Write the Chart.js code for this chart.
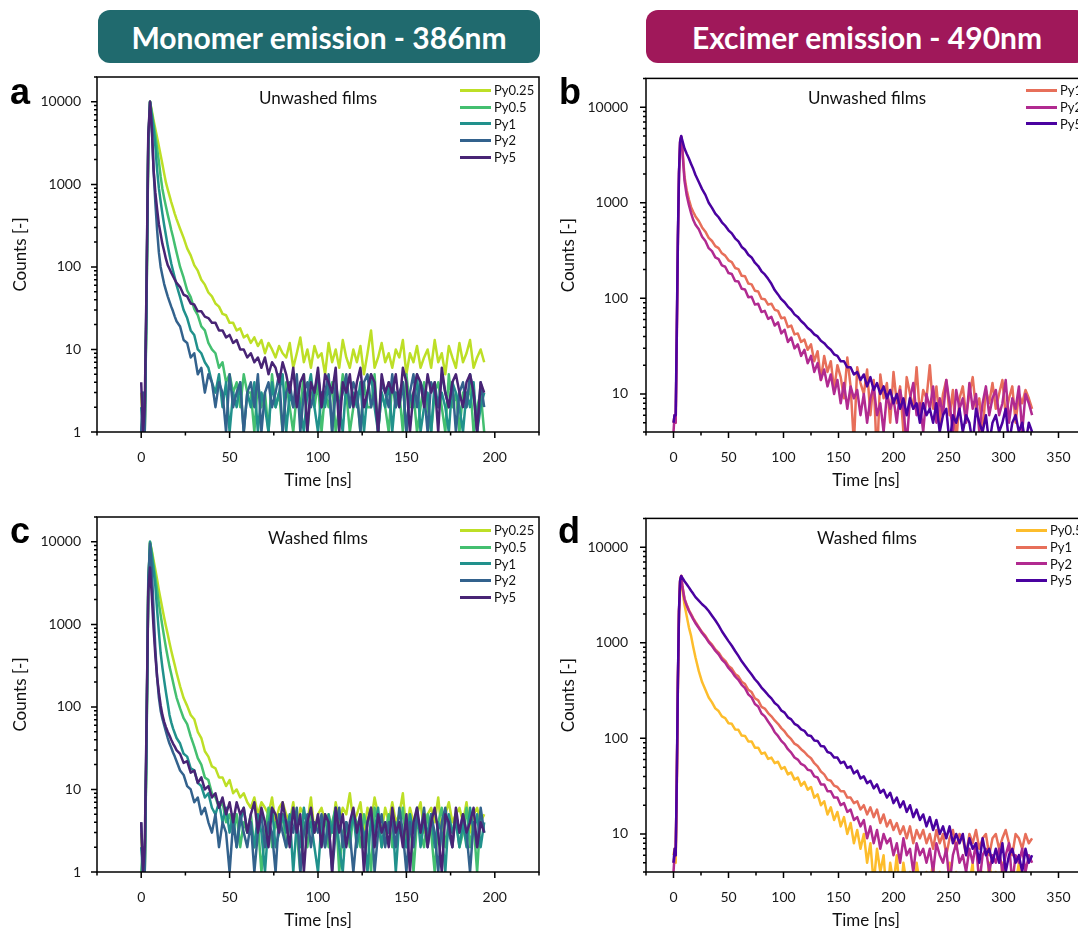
<!DOCTYPE html>
<html>
<head>
<meta charset="utf-8">
<script src="https://cdn.jsdelivr.net/npm/chart.js@4.4.0/dist/chart.umd.min.js"></script>
<style>
html, body { margin: 0; padding: 0; width: 1078px; height: 933px; overflow: hidden; background: #fff; font-family: Lato, sans-serif; }
.banner { position: absolute; top: 10px; height: 53px; width: 442px; border-radius: 12px; color: #fff;
  font: bold 30px Lato, sans-serif; display: flex; align-items: center; justify-content: center; }
.letter { position: absolute; font: bold 36px "Liberation Sans", Arial, sans-serif; line-height: 36px; }
canvas { position: absolute; }
.label { position: absolute; font: 17px Lato, sans-serif; color: #111; transform: translate(-50%, -50%); white-space: nowrap; }
.legend { position: absolute; font: 13px Lato, sans-serif; color: #111; }
.legend .row { display: flex; align-items: center; height: 16.7px; white-space: nowrap; }
.legend .ln { display: inline-block; width: 31px; height: 3px; margin-right: 3px; }
</style>
</head>
<body>
<div class="banner" style="left:98px;background:#206a6e;">Monomer emission - 386nm</div>
<div class="banner" style="left:646px;background:#a0185a;">Excimer emission - 490nm</div>

<canvas id="chartA" width="545" height="445" style="left:0px;top:60px;"></canvas>
<canvas id="chartB" width="542" height="445" style="left:550px;top:60px;"></canvas>
<canvas id="chartC" width="545" height="445" style="left:0px;top:500px;"></canvas>
<canvas id="chartD" width="542" height="445" style="left:550px;top:500px;"></canvas>

<div class="letter" style="left:10px;top:74px;">a</div>
<div class="letter" style="left:559px;top:74px;">b</div>
<div class="letter" style="left:10px;top:513px;">c</div>
<div class="letter" style="left:558px;top:513px;">d</div>

<div class="label" style="left:318px;top:97px;">Unwashed films</div>
<div class="label" style="left:867px;top:97px;">Unwashed films</div>
<div class="label" style="left:318px;top:537px;">Washed films</div>
<div class="label" style="left:867px;top:537px;">Washed films</div>

<script>
// time axes (ns)
const timeMono = [0,1,2,3,4,5,6,7,8,9,10,11,12,13,14,15,16,17,18,19,20,
  22,24,26,28,30,32,34,36,38,40,
  42,44,46,48,50,52,54,56,58,60,
  62,64,66,68,70,72,74,76,78,80,
  82,84,86,88,90,92,94,96,98,100,
  102,104,106,108,110,112,114,116,118,120,
  122,124,126,128,130,132,134,136,138,140,
  142,144,146,148,150,152,154,156,158,160,
  162,164,166,168,170,172,174,176,178,180,
  182,184,186,188,190,192,194];

const timeExc = [0,1,2,3,4,5,6,7,8,10,12,14,16,18,20,
  23,26,29,32,35,38,41,44,47,50,
  53,56,59,62,65,68,71,74,77,80,
  83,86,89,92,95,98,101,104,107,110,
  113,116,119,122,125,128,131,134,137,140,
  143,146,149,152,155,158,161,164,167,170,
  173,176,179,182,185,188,191,194,197,200,
  203,206,209,212,215,218,221,224,227,230,
  233,236,239,242,245,248,251,254,257,260,
  263,266,269,272,275,278,281,284,287,290,
  293,296,299,302,305,308,311,314,317,320,
  323,326];

const monoNames = ["Py0.25", "Py0.5", "Py1", "Py2", "Py5"];
const monoColors = ["#bddf26", "#44bf70", "#21918c", "#33628d", "#482475"];
const excNamesB = ["Py1", "Py2", "Py5"];
const excColorsB = ["#e76f5a", "#b12a90", "#4a02a0"];
const excNamesD = ["Py0.5", "Py1", "Py2", "Py5"];
const excColorsD = ["#fdbd2c", "#e76f5a", "#b12a90", "#4a02a0"];

const monoYTicks = [1, 10, 100, 1000, 10000];
const excYTicks = [10, 100, 1000, 10000];
const monoXTicks = [0, 50, 100, 150, 200];
const excXTicks = [0, 50, 100, 150, 200, 250, 300, 350];

// a - monomer, unwashed
const aPy025 = [3,1,1,40,3000,10000,7800,6000,4700,3700,2900,2250,1750,1350,1050,870,730,610,520,440,380,
  290,225,168,138,105,90,70,61,49,44,
  36,33,27,26,21,21,17,18,14,15,
  12,14,11,13,9,12,10,8,11,9,
  8,12,6,9,14,7,10,6,11,8,
  9,5,12,7,10,6,13,8,6,10,
  7,11,5,9,17,6,8,12,7,9,
  6,10,8,13,5,9,7,11,6,8,
  10,6,13,7,9,5,11,8,6,12,
  7,9,13,6,8,10,7];
const aPy05 = [1,2,1,30,2800,10000,7400,5400,3900,2700,1900,1250,880,680,540,430,350,280,230,185,150,
  100,74,52,43,31,26,19,17,12,10,
  9,6,7,4,5,3,4,2,5,3,
  3,1,4,2,3,1,5,2,3,1,
  4,2,1,3,2,5,1,3,2,4,
  1,3,2,4,1,2,5,3,1,2,
  3,1,4,2,2,5,1,3,2,1,
  4,2,3,1,5,2,3,1,2,4,
  2,1,3,4,2,1,5,2,3,1,
  3,2,4,1,2,3,1];
const aPy1 = [2,1,1,35,3000,10000,6900,4700,2900,1500,900,620,440,320,240,180,140,110,90,74,60,
  43,30,24,17,15,10,9,7,6,4,
  3,5,2,4,1,3,2,4,1,3,
  2,4,1,3,2,1,4,2,3,5,
  1,3,2,4,2,1,3,5,2,1,
  3,2,4,1,3,2,1,4,2,3,
  2,4,1,3,5,2,1,3,2,4,
  1,3,2,4,1,3,2,5,1,2,
  3,1,4,2,3,2,1,4,3,2,
  1,3,2,4,1,2,3];
const aPy2 = [1,3,1,50,3500,10000,5000,1500,600,280,150,100,78,62,52,44,38,33,29,25,22,
  19,13,12,8,9,5,6,3,5,4,
  2,4,3,1,5,2,3,4,1,3,
  4,2,5,1,3,4,2,3,5,1,
  3,4,2,5,1,3,4,2,3,5,
  2,3,5,1,4,2,3,5,2,4,
  3,1,4,5,2,3,1,4,3,2,
  5,2,3,4,1,3,5,2,4,3,
  1,4,3,2,5,3,2,4,1,3,
  4,2,5,3,1,4,2];
const aPy5 = [4,1,2,60,4000,10000,4800,1500,800,500,330,250,190,155,125,105,95,85,77,70,64,
  57,46,44,36,35,29,29,25,24,21,
  21,17,17,14,15,12,13,10,10,8,
  9,7,8,6,8,5,7,6,4,7,
  5,3,6,2,4,5,1,4,3,6,
  2,5,4,3,6,1,4,3,5,2,
  4,6,2,3,5,4,1,5,3,4,
  3,5,2,6,4,1,3,5,4,2,
  5,3,4,1,6,3,2,4,5,3,
  2,4,5,3,1,4,3];

// c - monomer, washed
const cPy025 = [3,1,1,40,3000,9800,7800,6000,4600,3500,2600,2000,1550,1200,950,760,600,480,390,320,260,
  178,128,103,80,71,50,42,29,25,19,
  18,14,14,11,13,9,10,8,9,7,
  6,8,5,7,6,5,8,4,6,7,
  5,4,7,3,6,5,4,8,3,5,
  6,4,5,3,7,4,6,5,9,4,
  5,7,3,6,4,8,5,3,6,4,
  7,4,5,9,3,6,4,5,7,3,
  5,6,4,8,3,5,7,4,5,6,
  4,7,3,5,6,4,5];
const cPy05 = [1,2,1,30,2800,10000,7500,5300,3700,2600,1800,1300,950,700,520,400,310,250,200,160,130,
  96,73,62,44,33,24,20,14,13,9,
  8,6,7,4,5,3,5,2,4,3,
  5,2,4,1,3,6,2,4,3,5,
  2,4,6,3,1,4,2,5,3,4,
  3,5,2,4,6,1,3,4,2,5,
  4,2,5,3,1,6,4,2,3,5,
  2,4,3,6,2,5,1,4,3,2,
  5,3,1,4,6,2,4,3,5,2,
  3,6,2,4,1,5,3];
const cPy1 = [2,1,1,35,3000,10000,6800,4500,2900,1500,800,450,300,210,150,110,80,65,55,48,42,
  36,27,25,18,17,12,11,8,9,6,
  5,7,4,6,3,5,2,4,6,3,
  4,2,5,3,1,4,6,2,3,5,
  3,5,1,4,2,6,3,4,2,1,
  4,2,5,3,6,2,1,4,3,5,
  2,4,3,1,5,3,6,2,4,3,
  5,1,4,3,2,5,3,6,2,4,
  3,5,2,4,3,1,5,3,4,2,
  4,2,6,3,5,2,4];
const cPy2 = [4,1,1,50,3500,9500,4500,1500,500,230,130,90,72,60,50,42,36,32,28,25,22,
  17,15,11,10,7,8,5,6,4,3,
  5,2,4,3,1,4,2,5,3,2,
  4,1,3,5,2,4,3,1,5,3,
  2,4,3,6,1,3,5,2,4,3,
  5,2,4,1,3,6,2,4,3,1,
  3,5,2,4,6,1,3,5,2,4,
  4,2,6,3,1,4,2,5,3,6,
  2,5,3,1,4,6,3,2,5,3,
  5,3,1,4,2,6,3];
const cPy5 = [4,1,2,60,2500,4900,2200,900,420,230,150,105,80,66,57,50,45,40,36,33,30,
  27,21,22,16,17,12,14,10,11,8,
  9,6,8,5,7,4,7,5,6,3,
  5,7,3,6,4,2,6,5,3,7,
  4,2,6,3,5,1,4,6,3,5,
  2,5,4,1,6,3,5,2,4,6,
  3,5,1,4,6,2,5,3,4,2,
  6,3,4,2,5,1,4,6,3,5,
  2,4,6,3,1,5,4,2,6,3,
  5,3,4,6,2,4,3];

// b - excimer, unwashed
const bPy1 = [5,6,5,40,400,2000,4300,4900,3800,1870,1350,1080,900,800,720,
  645,552,498,430,398,352,335,296,280,250,
  240,208,202,172,170,143,140,120,118,99,
  98,86,88,76,74,62,63,50,52,42,
  43,35,37,29,33,22,28,14,25,17,
  22,11,20,15,9,24,12,3,19,13,
  10,18,6,14,2,16,9,13,5,17,
  8,12,4,15,10,7,19,6,11,9,
  20,7,12,5,10,14,6,11,3,9,
  12,6,10,15,7,9,4,11,8,13,
  7,10,14,6,9,12,5,10,8,11,
  9,7];
const bPy2 = [4,6,5,40,400,2000,4300,4900,3600,1700,1200,950,780,660,590,
  528,441,398,335,312,268,257,221,214,184,
  180,152,150,126,124,103,104,86,88,72,
  74,61,64,52,56,43,47,35,39,30,
  33,25,29,21,25,17,21,14,18,12,
  16,10,14,8,13,7,12,9,11,6,
  10,5,9,12,6,8,4,10,7,9,
  5,11,7,3,9,13,6,8,4,10,
  7,12,5,9,6,14,8,4,11,7,
  9,5,13,7,10,4,8,12,6,9,
  11,6,8,14,5,9,7,12,4,10,
  8,6];
const bPy5 = [5,6,6,50,450,2100,4400,5000,4500,3700,3250,2900,2550,2250,1950,
  1650,1390,1210,1000,885,770,705,625,575,515,
  478,425,395,345,322,286,268,236,218,192,
  178,160,142,122,110,98,91,82,76,68,
  64,58,54,49,46,42,40,36,34,31,
  29,26,25,22,22,19,19,16,17,14,
  16,12,15,11,13,10,12,9,11,8,
  10,7,9,6,9,7,8,5,8,6,
  7,5,8,4,6,7,3,6,5,7,
  4,6,5,3,7,5,4,6,3,5,
  6,4,5,7,3,5,6,4,5,3,
  5,4];

// d - excimer, washed
const dPy05 = [6,7,5,30,350,2000,4300,5000,3600,2500,1900,1450,1180,900,700,
  505,388,322,268,238,206,193,170,163,144,
  142,124,123,107,106,93,93,80,80,69,
  71,61,63,55,57,48,50,42,44,37,
  39,32,35,29,31,24,26,20,22,16,
  19,14,17,12,15,10,13,8,11,7,
  10,5,8,3,7,4,6,2,5,3,
  6,2,5,3,4,1,5,3,2,4,
  3,5,2,4,1,3,5,2,4,3,
  2,4,3,5,1,3,4,2,5,3,
  4,2,5,3,1,4,3,5,2,4,
  3,4];
const dPy1 = [5,6,7,35,380,2100,4400,5000,4000,2900,2500,2200,2000,1800,1650,
  1460,1290,1180,1040,955,850,790,700,648,572,
  537,472,446,392,370,322,305,263,250,214,
  205,184,170,154,142,128,118,106,98,88,
  84,77,72,66,62,55,51,45,42,37,
  36,32,31,28,28,24,24,21,22,18,
  20,16,19,15,18,13,16,12,14,11,
  13,10,12,9,12,8,11,9,11,8,
  10,7,11,8,10,6,9,11,7,10,
  9,6,10,8,11,7,9,10,6,9,
  10,7,9,11,8,6,10,9,7,10,
  8,9];
const dPy2 = [4,6,6,35,380,2100,4400,5000,3900,2850,2450,2150,1950,1760,1600,
  1425,1265,1145,1015,925,825,755,668,616,545,
  500,444,410,363,336,289,268,229,215,182,
  170,150,134,116,106,94,87,77,71,63,
  60,54,52,47,46,40,39,33,33,28,
  28,24,24,20,21,17,18,14,15,12,
  14,9,12,8,11,7,10,8,9,6,
  8,5,9,6,7,4,8,6,7,5,
  7,4,8,6,5,7,3,6,8,5,
  6,4,7,5,8,3,6,7,4,6,
  5,7,4,6,8,3,6,5,7,4,
  6,5];
const dPy5 = [5,7,6,40,420,2200,4500,5000,4800,4400,4100,3800,3500,3250,3000,
  2760,2530,2360,2150,1920,1720,1520,1320,1170,1040,
  930,820,730,640,575,515,465,415,380,340,
  312,284,262,234,220,196,186,166,158,142,
  136,124,120,108,106,95,94,83,82,72,
  70,63,63,55,57,49,51,43,46,38,
  40,34,36,30,33,27,29,24,27,21,
  24,19,22,17,20,15,18,14,16,12,
  15,11,14,10,12,9,12,8,10,8,
  10,6,9,7,8,5,9,6,7,5,
  7,5,8,4,6,7,5,6,4,7,
  5,6];

const tickFont = { family: "Lato", size: 14 };
const titleFont = { family: "Lato", size: 17 };

// box round the plot plus outward tick marks (major and minor)
const framePlugin = {
  id: "frame",
  afterDraw(chart) {
    const ctx = chart.ctx;
    const a = chart.chartArea;
    const x = chart.scales.x;
    const y = chart.scales.y;
    ctx.save();
    ctx.strokeStyle = "#000";
    ctx.lineWidth = 1.5;
    ctx.strokeRect(a.left, a.top, a.right - a.left, a.bottom - a.top);
    ctx.beginPath();
    for (let v = Math.ceil(x.min / 25) * 25; v <= x.max; v += 25) {
      const px = x.getPixelForValue(v);
      const len = v % 50 === 0 ? 6 : 3.5;
      ctx.moveTo(px, a.bottom);
      ctx.lineTo(px, a.bottom + len);
    }
    const e0 = Math.floor(Math.log10(y.min));
    const e1 = Math.ceil(Math.log10(y.max));
    for (let e = e0; e <= e1; e++) {
      for (let m = 1; m < 10; m++) {
        const v = m * Math.pow(10, e);
        if (v < y.min || v > y.max) continue;
        const py = y.getPixelForValue(v);
        const len = m === 1 ? 6 : 3;
        ctx.moveTo(a.left, py);
        ctx.lineTo(a.left - len, py);
      }
    }
    ctx.stroke();
    ctx.restore();
  }
};

function makeChart(id, o) {
  const datasets = o.series.map((vals, i) => ({
    label: o.names[i],
    data: o.times.map((t, k) => ({ x: t, y: vals[k] })),
    borderColor: o.colors[i],
    borderWidth: 2.5,
    borderJoinStyle: "round",
    pointRadius: 0,
    tension: 0,
    fill: false
  })).reverse(); // last series on top

  new Chart(document.getElementById(id), {
    type: "line",
    data: { datasets: datasets },
    options: {
      responsive: false,
      animation: false,
      layout: { padding: { top: 17, right: 6, left: 0, bottom: 0 } },
      plugins: { legend: { display: false }, tooltip: { enabled: false } },
      scales: {
        x: {
          type: "linear",
          min: o.xMin,
          max: o.xMax,
          grid: { display: false },
          border: { display: false },
          afterBuildTicks: s => { s.ticks = o.xTicks.map(v => ({ value: v })); },
          afterFit: s => { s.height = 73; },
          ticks: { font: tickFont, color: "#1a1a1a", padding: 9, maxRotation: 0, autoSkip: false },
          title: { display: true, text: "Time [ns]", font: titleFont, color: "#111", padding: { top: 0, bottom: 14 } }
        },
        y: {
          type: "logarithmic",
          min: o.yMin,
          max: 20000,
          grid: { display: false },
          border: { display: false },
          afterBuildTicks: s => { s.ticks = o.yTicks.map(v => ({ value: v })); },
          afterFit: s => { s.width = o.yWidth; },
          ticks: { font: tickFont, color: "#1a1a1a", padding: o.yPad, autoSkip: false, callback: v => String(v) },
          title: { display: true, text: "Counts [-]", font: titleFont, color: "#111", padding: { top: o.titlePad, bottom: 0 } }
        }
      }
    },
    plugins: [framePlugin]
  });
}

function buildLegend(left, top, names, colors) {
  const box = document.createElement("div");
  box.className = "legend";
  box.style.left = left + "px";
  box.style.top = top + "px";
  names.forEach((n, i) => {
    const row = document.createElement("div");
    row.className = "row";
    row.innerHTML = '<span class="ln" style="background:' + colors[i] + '"></span>' + n;
    box.appendChild(row);
  });
  document.body.appendChild(box);
}

makeChart("chartA", { times: timeMono, series: [aPy025, aPy05, aPy1, aPy2, aPy5], names: monoNames, colors: monoColors,
  xMin: -25, xMax: 225, xTicks: monoXTicks, yMin: 1, yTicks: monoYTicks, yWidth: 97, yPad: 8, titlePad: 10 });
makeChart("chartC", { times: timeMono, series: [cPy025, cPy05, cPy1, cPy2, cPy5], names: monoNames, colors: monoColors,
  xMin: -25, xMax: 225, xTicks: monoXTicks, yMin: 1, yTicks: monoYTicks, yWidth: 97, yPad: 8, titlePad: 10 });
makeChart("chartB", { times: timeExc, series: [bPy1, bPy2, bPy5], names: excNamesB, colors: excColorsB,
  xMin: -25, xMax: 375, xTicks: excXTicks, yMin: 4, yTicks: excYTicks, yWidth: 96, yPad: 10, titlePad: 8 });
makeChart("chartD", { times: timeExc, series: [dPy05, dPy1, dPy2, dPy5], names: excNamesD, colors: excColorsD,
  xMin: -25, xMax: 375, xTicks: excXTicks, yMin: 4, yTicks: excYTicks, yWidth: 96, yPad: 10, titlePad: 8 });

buildLegend(460, 82, monoNames, monoColors);
buildLegend(1026, 82, excNamesB, excColorsB);
buildLegend(460, 522, monoNames, monoColors);
buildLegend(1016, 522, excNamesD, excColorsD);
</script>
</body>
</html>
